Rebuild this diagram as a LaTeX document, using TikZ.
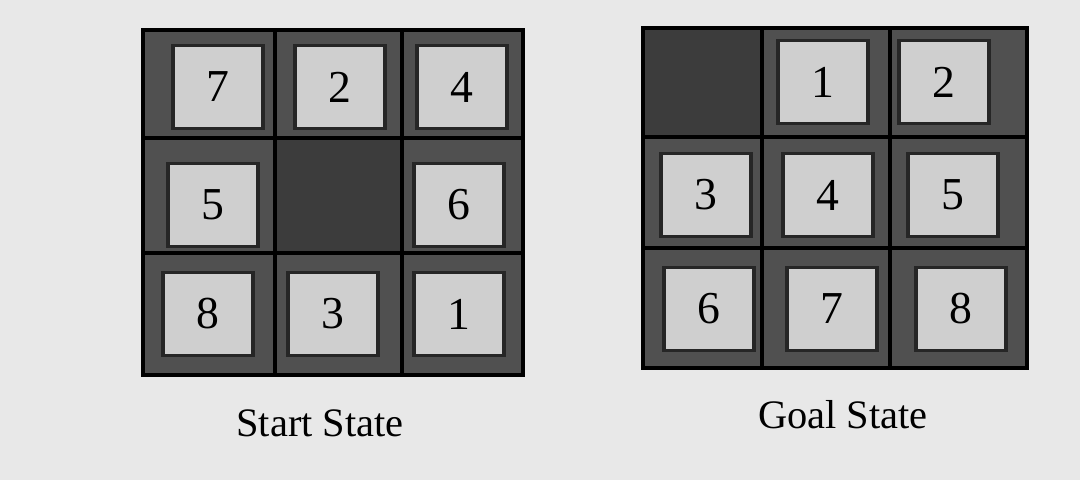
\documentclass[tikz,border=0pt]{standalone}
\usepackage{fontspec}
\setmainfont{Liberation Serif}
\usepackage{xcolor}
\usepackage{tikz}

\definecolor{paper}{HTML}{E8E8E8}
\definecolor{frame}{HTML}{505050}
\definecolor{hole}{HTML}{3C3C3C}
\definecolor{tilegrey}{HTML}{CFCFCF}

\tikzset{
  tile/.style={draw=black!85, line width=1.1pt, fill=tilegrey,
    minimum width=0.9cm, minimum height=0.83cm, inner sep=0pt,
    font=\fontsize{13}{14}\selectfont},
  caption/.style={font=\fontsize{11.5}{13}\selectfont}
}

\begin{document}
\begin{tikzpicture}
  % Page background
  \fill[paper] (0,0) rectangle (10.8,4.8);
  \useasboundingbox (0,0) rectangle (10.8,4.8);

  % Start state: board
  \fill[frame] (1.43,1.05) rectangle (5.23,4.50);
  \fill[hole] (2.75,2.27) rectangle (4.02,3.42);
  \draw[black, line width=1.2pt] (1.43,1.05) rectangle (5.23,4.50);
  \draw[black, line width=1pt] (2.75,1.05) -- (2.75,4.50);
  \draw[black, line width=1pt] (4.02,1.05) -- (4.02,4.50);
  \draw[black, line width=1pt] (1.43,3.42) -- (5.23,3.42);
  \draw[black, line width=1pt] (1.43,2.27) -- (5.23,2.27);

  % Start state: tiles
  \node[tile] (s7) at (2.18,3.93) {7};
  \node[tile] (s2) at (3.40,3.93) {2};
  \node[tile] (s4) at (4.62,3.93) {4};
  \node[tile] (s5) at (2.13,2.75) {5};
  \node[tile] (s6) at (4.59,2.75) {6};
  \node[tile] (s8) at (2.08,1.66) {8};
  \node[tile] (s3) at (3.33,1.66) {3};
  \node[tile] (s1) at (4.59,1.66) {1};

  % Goal state: board
  \fill[frame] (6.43,1.12) rectangle (10.27,4.52);
  \fill[hole] (6.43,3.43) rectangle (7.62,4.52);
  \draw[black, line width=1.2pt] (6.43,1.12) rectangle (10.27,4.52);
  \draw[black, line width=1pt] (7.62,1.12) -- (7.62,4.52);
  \draw[black, line width=1pt] (8.90,1.12) -- (8.90,4.52);
  \draw[black, line width=1pt] (6.43,3.43) -- (10.27,3.43);
  \draw[black, line width=1pt] (6.43,2.32) -- (10.27,2.32);

  % Goal state: tiles
  \node[tile] (g1) at (8.23,3.98) {1};
  \node[tile] (g2) at (9.44,3.98) {2};
  \node[tile] (g3) at (7.06,2.85) {3};
  \node[tile] (g4) at (8.28,2.85) {4};
  \node[tile] (g5) at (9.53,2.85) {5};
  \node[tile] (g6) at (7.09,1.71) {6};
  \node[tile] (g7) at (8.32,1.71) {7};
  \node[tile] (g8) at (9.61,1.71) {8};

  % Captions
  \node[caption] (startlabel) at (3.20,0.57) {Start State};
  \node[caption] (goallabel) at (8.43,0.65) {Goal State};
\end{tikzpicture}
\end{document}
